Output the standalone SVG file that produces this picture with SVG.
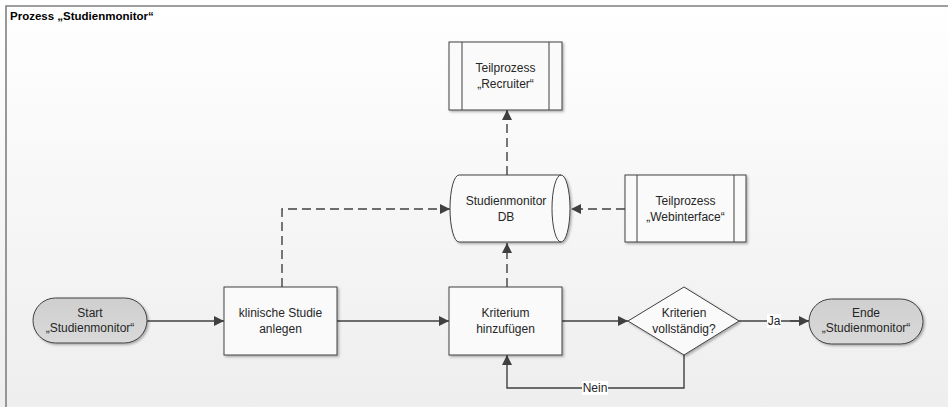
<svg xmlns="http://www.w3.org/2000/svg" width="948" height="407" viewBox="0 0 948 407">
  <defs>
    <linearGradient id="bg" x1="0" y1="0" x2="0" y2="1">
      <stop offset="0" stop-color="#ffffff"/>
      <stop offset="1" stop-color="#eeeeee"/>
    </linearGradient>
    <linearGradient id="term" x1="0" y1="0" x2="0" y2="1">
      <stop offset="0" stop-color="#cfcfcf"/>
      <stop offset="1" stop-color="#d9d9d9"/>
    </linearGradient>
    <filter id="shadow" x="-10%" y="-10%" width="130%" height="130%">
      <feDropShadow dx="1.5" dy="1.5" stdDeviation="1" flood-color="#000" flood-opacity="0.3"/>
    </filter>
    <marker id="arrow" viewBox="0 0 10 10" refX="10" refY="5" markerWidth="10" markerHeight="10" markerUnits="userSpaceOnUse" orient="auto">
      <path d="M0,0 L10,5 L0,10 Z" fill="#404040"/>
    </marker>
  </defs>
  <style>
    .shape { fill: #fafafa; stroke: #404040; stroke-width: 1; filter: url(#shadow); }
    .terminal { fill: url(#term); stroke: #404040; stroke-width: 1; filter: url(#shadow); }
    .inner { fill: none; stroke: #404040; stroke-width: 1; }
    .edge { fill: none; stroke: #404040; stroke-width: 1.4; marker-end: url(#arrow); }
    .dashed { stroke-dasharray: 9 5; }
    .plain { fill: none; stroke: #404040; stroke-width: 1.4; }
    text { font-family: "Liberation Sans", Arial, sans-serif; font-size: 12px; fill: #262626; text-anchor: middle; }
    .title { font-size: 11.5px; font-weight: bold; fill: #000; text-anchor: start; }
  </style>

  <!-- pool background and frame -->
  <rect x="0" y="0" width="948" height="407" fill="url(#bg)"/>
  <path d="M6,407 L6,6 L948,6" fill="none" stroke="#808080" stroke-width="1.6"/>
  <text class="title" x="10" y="19.5">Prozess „Studienmonitor“</text>

  <!-- connectors -->
  <g id="connectors">
    <line class="edge" x1="147" y1="321" x2="224" y2="321"/>
    <line class="edge" x1="337" y1="321" x2="449" y2="321"/>
    <line class="edge" x1="562" y1="321" x2="628" y2="321"/>
    <path class="plain" d="M739,321 L809,321"/>
    <line class="edge" x1="790" y1="321" x2="809" y2="321"/>
    <path class="edge" d="M684,355 L684,388 L507,388 L507,355"/>
    <path class="edge dashed" d="M282,287 L282,209 L450,209"/>
    <path class="edge dashed" d="M507,287 L507,243"/>
    <path class="edge dashed" d="M507,175 L507,110"/>
    <path class="edge dashed" d="M625,209 L571,209"/>
    <rect x="582" y="381" width="26" height="14" fill="#ffffff"/>
    <text x="595" y="392">Nein</text>
    <rect x="767" y="314" width="14" height="14" fill="#ffffff"/>
    <text x="774" y="325">Ja</text>
  </g>

  <!-- start event -->
  <g id="start">
    <rect class="terminal" x="33" y="298" width="114" height="45" rx="22.5" ry="22.5"/>
    <text x="90" y="317">Start</text>
    <text x="90" y="332">„Studienmonitor“</text>
  </g>

  <!-- create clinical study -->
  <g id="studie-anlegen">
    <rect class="shape" x="224" y="287" width="113" height="68"/>
    <text x="280.5" y="317">klinische Studie</text>
    <text x="280.5" y="333">anlegen</text>
  </g>

  <!-- add criterion -->
  <g id="kriterium">
    <rect class="shape" x="449" y="287" width="113" height="68"/>
    <text x="505.5" y="317">Kriterium</text>
    <text x="505.5" y="333">hinzufügen</text>
  </g>

  <!-- decision -->
  <g id="entscheidung">
    <path class="shape" d="M684,287 L739,321 L684,355 L628,321 Z"/>
    <text x="684" y="317">Kriterien</text>
    <text x="684" y="333">vollständig?</text>
  </g>

  <!-- end event -->
  <g id="ende">
    <rect class="terminal" x="809" y="299" width="114" height="45" rx="22.5" ry="22.5"/>
    <text x="866" y="317">Ende</text>
    <text x="866" y="332">„Studienmonitor“</text>
  </g>

  <!-- database -->
  <g id="datenbank">
    <path class="shape" d="M459,175 L561,175 A9,33.5 0 0 1 561,242 L459,242 A9,33.5 0 0 1 459,175 Z"/>
    <path class="inner" d="M561,175 A9,33.5 0 0 0 561,242"/>
    <text x="506" y="205">Studienmonitor</text>
    <text x="506" y="221">DB</text>
  </g>

  <!-- subprocess recruiter -->
  <g id="recruiter">
    <rect class="shape" x="449" y="42" width="113" height="68"/>
    <line class="inner" x1="462" y1="42" x2="462" y2="110"/>
    <line class="inner" x1="549" y1="42" x2="549" y2="110"/>
    <text x="505.5" y="72">Teilprozess</text>
    <text x="505.5" y="88">„Recruiter“</text>
  </g>

  <!-- subprocess web interface -->
  <g id="webinterface">
    <rect class="shape" x="625" y="175" width="121" height="67"/>
    <line class="inner" x1="637" y1="175" x2="637" y2="242"/>
    <line class="inner" x1="734" y1="175" x2="734" y2="242"/>
    <text x="685.5" y="205">Teilprozess</text>
    <text x="685.5" y="221">„Webinterface“</text>
  </g>
</svg>
